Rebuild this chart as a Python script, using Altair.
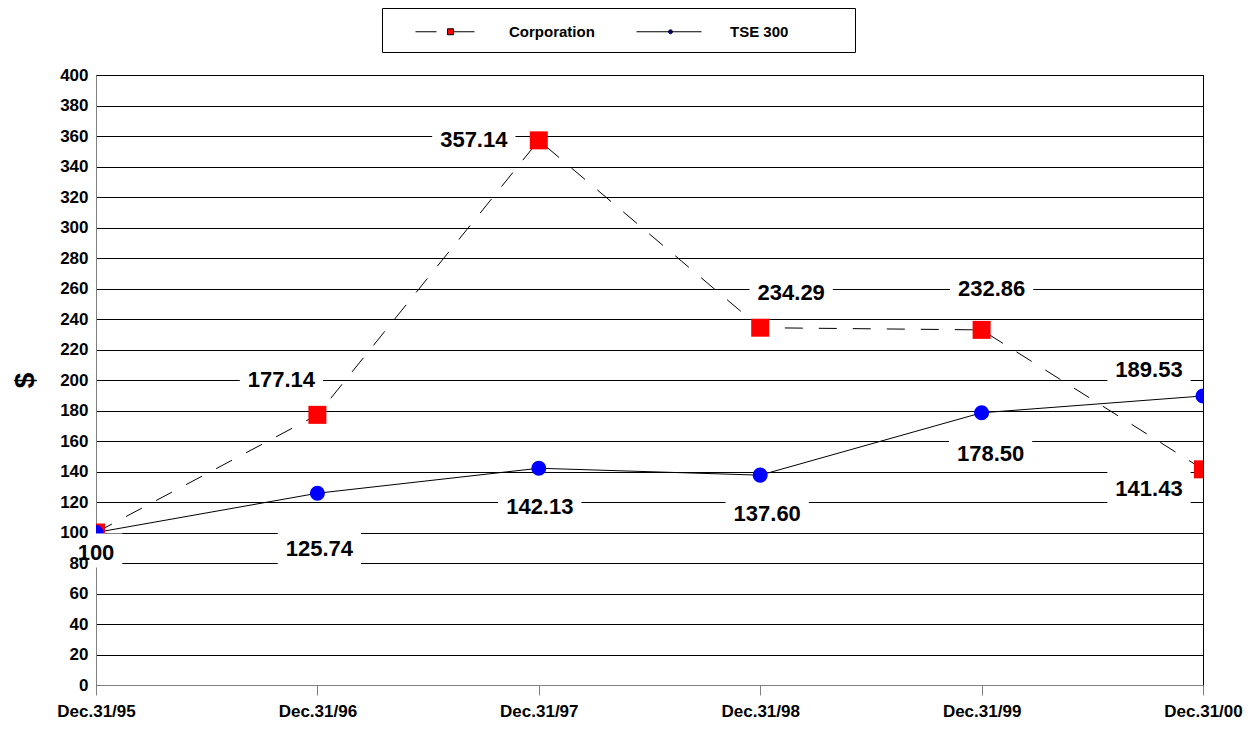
import altair as alt
import pandas as pd

# ---- data ----
DATES = ["Dec.31/95", "Dec.31/96", "Dec.31/97", "Dec.31/98", "Dec.31/99", "Dec.31/00"]
SERIES = ["Corporation", "TSE 300"]
CORPORATION = [100, 177.14, 357.14, 234.29, 232.86, 141.43]
TSE300 = [100, 125.74, 142.13, 137.60, 178.50, 189.53]
CORP_LABELS = ["", "177.14", "357.14", "234.29", "232.86", "141.43"]
TSE_LABELS = ["100", "125.74", "142.13", "137.60", "178.50", "189.53"]
Y_TICKS = list(range(0, 401, 20))

# ---- layout / style (pixel offsets of value labels from their points) ----
CORP_OFFSETS = [(0, 0), (-36, -35), (-65, 0), (31, -35), (10, -41), (-54, 20)]
TSE_OFFSETS = [(0, 20), (2, 56), (1, 39), (7, 39), (9, 41), (-54, -26)]
FONT = "Liberation Sans"
LABEL_SIZE = 22

df = pd.DataFrame({
    "date": DATES * 2,
    "value": CORPORATION + TSE300,
    "series": [SERIES[0]] * len(DATES) + [SERIES[1]] * len(DATES),
    "label": CORP_LABELS + TSE_LABELS,
})
df["idx"] = list(range(len(DATES))) * 2

x_enc = alt.X(
    "date:O", sort=DATES, title=None,
    scale=alt.Scale(type="point", padding=0),
    axis=alt.Axis(labelAngle=0, grid=False, tickSize=10, labelPadding=8,
                  labelFontSize=17, labelFontWeight="bold", labelFont=FONT,
                  labelColor="black", domainColor="#808080", tickColor="#808080"),
)
y_enc = alt.Y(
    "value:Q", title="$",
    scale=alt.Scale(domain=[0, 400], nice=False, zero=True),
    axis=alt.Axis(values=Y_TICKS, grid=True, gridColor="black", gridWidth=1,
                  ticks=False, labelPadding=8, labelFontSize=17, labelFontWeight="bold",
                  labelFont=FONT, labelColor="black", domainColor="#808080",
                  titleFontSize=28, titleFontWeight="bold", titleFont=FONT,
                  titleColor="black", titlePadding=20),
)

base = alt.Chart(df).encode(x=x_enc, y=y_enc)
corp = base.transform_filter(alt.datum.series == SERIES[0])
tse = base.transform_filter(alt.datum.series == SERIES[1])

corp_line = corp.mark_line(color="black", strokeWidth=1, strokeDash=[18, 16])
tse_line = tse.mark_line(color="black", strokeWidth=1)
corp_pts = corp.mark_square(color="red", size=324, opacity=1, clip=True)
tse_pts = tse.mark_circle(color="blue", size=227, opacity=1, clip=True)

# legend symbols: line segment(s) with the marker drawn on them
CORP_SYMBOL = "M0.91,0H2.82M4.36,0H6.27M3.82,-0.27H4.36V0.27H3.82Z"
TSE_SYMBOL = ("M0.91,0H6.82M4.18,0A0.18,0.18 0 1 1 3.82,0"
              "A0.18,0.18 0 1 1 4.18,0ZM19.45,0h0")
legend = alt.Legend(
    title=None, orient="none", legendX=286, legendY=-67, direction="horizontal",
    padding=12, strokeColor="black", fillColor="white",
    labelFontSize=15, labelFontWeight="bold", labelFont=FONT, labelColor="black",
    symbolSize=484, symbolStrokeWidth=1, labelOffset=92, columnPadding=20,
)
legend_layer = base.mark_point(filled=True, stroke="black", strokeWidth=1,
                               opacity=1, clip=True, yOffset=5000).encode(
    fill=alt.Fill("series:N", scale=alt.Scale(domain=SERIES, range=["red", "blue"]),
                  legend=legend),
    shape=alt.Shape("series:N", scale=alt.Scale(domain=SERIES,
                                                range=[CORP_SYMBOL, TSE_SYMBOL]),
                    legend=legend),
)

label_layers = []
for series_name, labels, offsets in [(SERIES[0], CORP_LABELS, CORP_OFFSETS),
                                     (SERIES[1], TSE_LABELS, TSE_OFFSETS)]:
    for i, (lab, (dx, dy)) in enumerate(zip(labels, offsets)):
        if not lab:
            continue
        digits = sum(ch.isdigit() for ch in lab)
        dots = len(lab) - digits
        w = LABEL_SIZE * (0.556 * digits + 0.278 * dots) + 16
        h = 34
        r = h / w
        box_path = f"M-1,{-r:.4f}H1V{r:.4f}H-1Z"
        sel = base.transform_filter(
            (alt.datum.series == series_name) & (alt.datum.idx == i))
        label_layers.append(sel.mark_point(
            shape=box_path, size=w * w, filled=True, fill="white", opacity=1,
            strokeWidth=0, xOffset=dx, yOffset=dy - 2, clip=True))
        label_layers.append(sel.mark_text(
            dx=dx, dy=dy, fontSize=LABEL_SIZE, fontWeight="bold", font=FONT,
            color="black", align="center", baseline="middle").encode(text="label:N"))

chart = alt.layer(
    corp_line, tse_line, corp_pts, tse_pts, legend_layer, *label_layers
).properties(
    width=1107, height=610,
    autosize=alt.AutoSizeParams(type="none"),
    padding={"left": 88, "top": 67, "right": 40, "bottom": 36},
).configure_view(stroke="black", strokeWidth=1)

chart.save("out.html", embed_options={"renderer": "svg", "actions": False})
